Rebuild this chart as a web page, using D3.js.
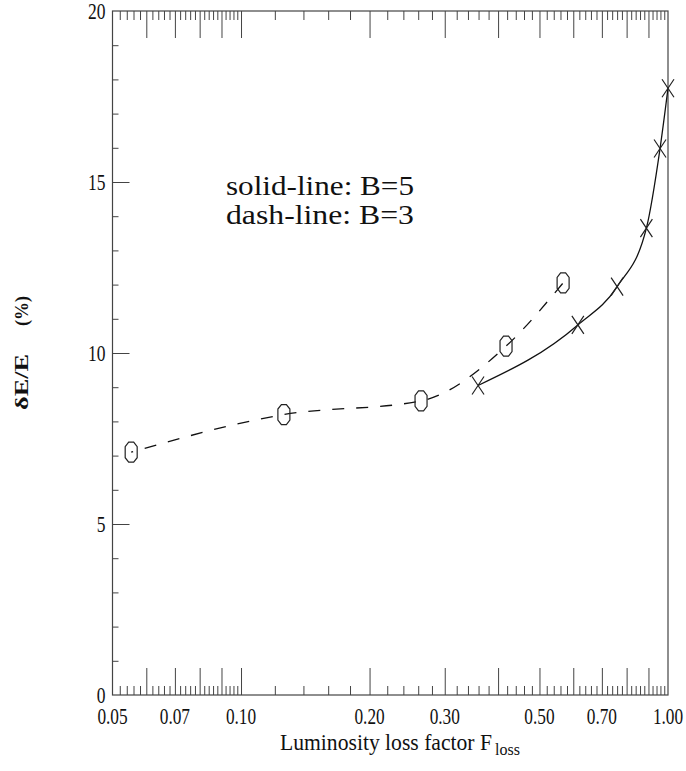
<!DOCTYPE html>
<html>
<head>
<meta charset="utf-8">
<script src="https://cdn.jsdelivr.net/npm/d3@7"></script>
<style>
  body { margin: 0; background: #fff; }
  text { font-family: "Liberation Serif", "Times New Roman", serif; fill: #111; }
</style>
</head>
<body>
<svg id="chart"></svg>
<script>
// dash-line, B=3 (circles)
var floss_b3 = [0.0553, 0.126, 0.264, 0.4175, 0.568]
var dE_b3 = [7.1, 8.2, 8.6, 10.2, 12.05]
// solid-line, B=5 (crosses)
var floss_b5 = [0.359, 0.615, 0.76, 0.89, 0.958, 1.0]
var dE_b5 = [9.05, 10.82, 11.94, 13.65, 15.98, 17.74]

var xLabelValues = [0.05, 0.07, 0.1, 0.2, 0.3, 0.5, 0.7, 1.0]
var xLabels = ["0.05", "0.07", "0.10", "0.20", "0.30", "0.50", "0.70", "1.00"]
var xMajor = [0.06, 0.07, 0.08, 0.09, 0.1, 0.2, 0.3, 0.4, 0.5, 0.6, 0.7, 0.8, 0.9]
var yLabelValues = [0, 5, 10, 15, 20]
var yLabels = ["0", "5", "10", "15", "20"]

var screen = {width: 686, height: 771}
var margins = {top: 11, bottom: 76, left: 112.5, right: 18}
var width = screen.width - margins.left - margins.right
var height = screen.height - margins.top - margins.bottom

var svg = d3.select("#chart")
  .attr("width", screen.width)
  .attr("height", screen.height)

var xScale = d3.scaleLog()
  .domain([0.05, 1])
  .range([margins.left, margins.left + width])

var yScale = d3.scaleLinear()
  .domain([0, 20])
  .range([margins.top + height, margins.top])

// minor ticks: every 0.002 below 0.1, every 0.02 above
var xMinor = d3.range(52, 100, 2).filter(function(v){ return v % 10 }).map(function(v){ return v / 1000 })
  .concat(d3.range(12, 100, 2).filter(function(v){ return v % 10 }).map(function(v){ return v / 100 }))
var yMinor = d3.range(1, 20).filter(function(v){ return v % 5 })

function tickAxis(axis, values, size) {
  return axis.tickValues(values).tickSize(size).tickFormat("").tickSizeOuter(0)
}

function addAxis(axis, tx, ty) {
  var g = svg.append("g")
    .attr("transform", "translate(" + tx + "," + ty + ")")
    .call(axis)
  g.select(".domain").remove()
  g.selectAll("line").attr("stroke", "#444")
  return g
}

var bottomY = margins.top + height
// top (ticks pointing down) and bottom (ticks pointing up)
addAxis(tickAxis(d3.axisBottom(xScale), xMinor, 9), 0, margins.top)
addAxis(tickAxis(d3.axisBottom(xScale), xMajor, 27), 0, margins.top)
addAxis(tickAxis(d3.axisTop(xScale), xMinor, 9), 0, bottomY)
addAxis(tickAxis(d3.axisTop(xScale), xMajor, 27), 0, bottomY)
// left side, ticks pointing in
addAxis(tickAxis(d3.axisRight(yScale), yMinor, 6), margins.left, 0)
addAxis(tickAxis(d3.axisRight(yScale), [5, 10, 15], 17), margins.left, 0)

// frame
svg.append("rect")
  .attr("x", margins.left)
  .attr("y", margins.top)
  .attr("width", width)
  .attr("height", height)
  .attr("fill", "none")
  .attr("stroke", "#444")
  .attr("stroke-width", 1.2)

// squeeze text a bit, the original font is narrow
function squeeze(sel, k) {
  sel.each(function(){
    var len = this.getComputedTextLength()
    d3.select(this).attr("textLength", len * k).attr("lengthAdjust", "spacingAndGlyphs")
  })
}

var xl = svg.append("g").selectAll("text")
  .data(xLabelValues)
  .enter()
  .append("text")
  .attr("x", function(d){ return xScale(d) })
  .attr("y", bottomY + 29)
  .attr("text-anchor", "middle")
  .attr("font-size", 24)
  .text(function(d, i){ return xLabels[i] })
squeeze(xl, 0.72)

var yl = svg.append("g").selectAll("text")
  .data(yLabelValues)
  .enter()
  .append("text")
  .attr("x", margins.left - 7)
  .attr("y", function(d){ return yScale(d) + 7.5 })
  .attr("text-anchor", "end")
  .attr("font-size", 23)
  .text(function(d, i){ return yLabels[i] })
squeeze(yl, 0.76)

// axis titles
svg.append("text")
  .attr("x", 280)
  .attr("y", 750)
  .attr("font-size", 24)
  .attr("textLength", 212).attr("lengthAdjust", "spacingAndGlyphs")
  .text("Luminosity loss factor F")
svg.append("text")
  .attr("x", 495)
  .attr("y", 755)
  .attr("font-size", 16)
  .text("loss")

svg.append("text")
  .attr("transform", "translate(28,382) rotate(-90)")
  .attr("text-anchor", "middle")
  .attr("font-size", 19)
  .attr("font-weight", "bold")
  .attr("textLength", 56)
  .attr("lengthAdjust", "spacingAndGlyphs")
  .text("δE/E")
svg.append("text")
  .attr("transform", "translate(28,311) rotate(-90)")
  .attr("text-anchor", "middle")
  .attr("font-size", 19)
  .attr("font-weight", "bold")
  .attr("textLength", 30)
  .attr("lengthAdjust", "spacingAndGlyphs")
  .text("(%)")

// note
svg.append("text")
  .attr("x", 226).attr("y", 195)
  .attr("font-size", 28)
  .attr("textLength", 188).attr("lengthAdjust", "spacingAndGlyphs")
  .text("solid-line: B=5")
svg.append("text")
  .attr("x", 226).attr("y", 224)
  .attr("font-size", 28)
  .attr("textLength", 188).attr("lengthAdjust", "spacingAndGlyphs")
  .text("dash-line: B=3")

// curves
var b3 = floss_b3.map(function(f, i){ return [f, dE_b3[i]] })
var b5 = floss_b5.map(function(f, i){ return [f, dE_b5[i]] })

var line = d3.line()
  .x(function(d){ return xScale(d[0]) })
  .y(function(d){ return yScale(d[1]) })
  .curve(d3.curveMonotoneX)

svg.append("path")
  .datum(b3)
  .attr("d", line)
  .attr("fill", "none")
  .attr("stroke", "#111")
  .attr("stroke-width", 1.3)
  .attr("stroke-dasharray", "12,12")
  .attr("stroke-dashoffset", 10)

svg.append("path")
  .datum(b5)
  .attr("d", line)
  .attr("fill", "none")
  .attr("stroke", "#111")
  .attr("stroke-width", 1.3)

// octagon markers
var octagon = "M-2.5,-10L2.5,-10L6,-5.5L6,5.5L2.5,10L-2.5,10L-6,5.5L-6,-5.5Z"
svg.append("g").selectAll("path")
  .data(b3)
  .enter()
  .append("path")
  .attr("transform", function(d){ return "translate(" + xScale(d[0]) + "," + yScale(d[1]) + ")" })
  .attr("d", octagon)
  .attr("fill", "none")
  .attr("stroke", "#222")
  .attr("stroke-width", 1.2)

svg.append("g").selectAll("path")
  .data(b5)
  .enter()
  .append("path")
  .attr("transform", function(d){ return "translate(" + xScale(d[0]) + "," + yScale(d[1]) + ")" })
  .attr("d", "M-6,-9L6,9M-6,9L6,-9")
  .attr("fill", "none")
  .attr("stroke", "#222")
  .attr("stroke-width", 1.2)
</script>
</body>
</html>
